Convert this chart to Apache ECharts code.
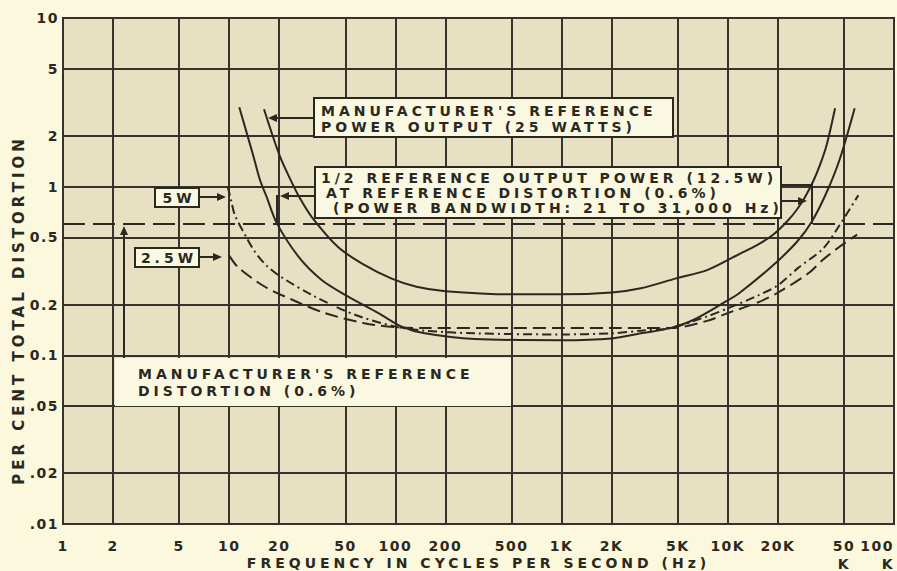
<!DOCTYPE html>
<html>
<head>
<meta charset="utf-8">
<script src="https://cdn.jsdelivr.net/npm/echarts@6/dist/echarts.min.js"></script>
<style>
  html, body { margin: 0; padding: 0; background: #fbf8dd; }
  #chart { width: 897px; height: 571px; }
  #chart text { letter-spacing: 4px; }
</style>
</head>
<body>
<div id="chart"></div>
<script>
// axis ticks (Hz and per cent)
const xTickFreqs = [1, 2, 5, 10, 20, 50, 100, 200, 500, 1000, 2000, 5000, 10000, 20000, 50000, 100000]
const xTickLabels = ['1', '2', '5', '10', '20', '50', '100', '200', '500', '1K', '2K', '5K', '10K', '20K', '50\nK', '100\nK']
const yTickValues = [0.01, 0.02, 0.05, 0.1, 0.2, 0.5, 1, 2, 5, 10]
const yTickLabels = ['.01', '.02', '.05', '0.1', '0.2', '0.5', '1', '2', '5', '10']
const referenceDistortion = 0.6

// 25 W (manufacturer's reference power output)
const freq25 = [16.2, 20.2, 23.8, 26.7, 31.4, 45, 63, 95, 134, 200, 500, 1000, 2000, 3000, 4900, 7500, 11800, 15000, 18800, 23000, 26000, 29000, 32700, 36000, 39400, 44200]
const thd25 = [2.88, 1.51, 1.06, 0.85, 0.66, 0.44, 0.35, 0.285, 0.255, 0.24, 0.23, 0.23, 0.236, 0.25, 0.286, 0.32, 0.40, 0.45, 0.52, 0.63, 0.73, 0.86, 1.08, 1.36, 1.78, 2.92]
// 12.5 W (half reference power)
const freq12 = [11.5, 14.0, 15.3, 16.8, 19.3, 26.1, 36, 52, 79, 109, 150, 300, 1000, 2000, 3000, 4500, 6200, 9850, 11800, 18800, 26000, 32000, 39400, 47300, 58000]
const thd12 = [2.96, 1.51, 1.10, 0.87, 0.61, 0.385, 0.28, 0.223, 0.178, 0.148, 0.135, 0.125, 0.123, 0.126, 0.135, 0.145, 0.162, 0.21, 0.235, 0.343, 0.47, 0.62, 0.93, 1.47, 2.92]
// 5 W
const freq5 = [9.8, 10.3, 10.8, 12.7, 14.3, 16.8, 20.7, 32.8, 57, 100, 150, 300, 1000, 2000, 3000, 4500, 7500, 10000, 15000, 20000, 26500, 37500, 47000, 61000]
const thd5 = [1.0, 0.82, 0.68, 0.50, 0.41, 0.34, 0.29, 0.223, 0.174, 0.148, 0.14, 0.135, 0.133, 0.135, 0.14, 0.145, 0.17, 0.19, 0.225, 0.26, 0.33, 0.43, 0.59, 0.89]
// 2.5 W
const freq2 = [10, 11.3, 16.4, 24.9, 37.7, 65, 100, 150, 500, 1000, 2000, 4500, 7500, 10000, 15000, 20000, 31000, 37500, 47000, 60000]
const thd2 = [0.39, 0.333, 0.255, 0.21, 0.178, 0.155, 0.147, 0.145, 0.145, 0.145, 0.145, 0.145, 0.16, 0.178, 0.205, 0.235, 0.31, 0.37, 0.44, 0.52]

const ink = '#2a2820'
const font = '"DejaVu Sans", sans-serif'
const boxFont = 'bold 14px "DejaVu Sans", sans-serif'

function lg (v) { return Math.log10(v) }
function toPoints (freqs, vals) {
  return freqs.map((f, i) => [lg(f), lg(vals[i])])
}
function findLabel (ticks, labels, value) {
  const i = ticks.findIndex(t => Math.abs(lg(t) - value) < 1e-6)
  return i < 0 ? '' : labels[i]
}

function curve (name, freqs, vals, dash) {
  return {
    name: name,
    type: 'line',
    smooth: 0.3,
    symbol: 'none',
    silent: true,
    lineStyle: { color: ink, width: 2, type: dash },
    data: toPoints(freqs, vals)
  }
}

function text (str, x, y, align) {
  return {
    type: 'text', z: 110,
    style: { text: str, x: x, y: y, font: boxFont, fill: ink, align: align || 'left', verticalAlign: 'middle' }
  }
}
function box (x, y, w, h, stroke) {
  return {
    type: 'rect', z: 100,
    shape: { x: x, y: y, width: w, height: h },
    style: { fill: '#fbf8e2', stroke: stroke ? ink : null, lineWidth: 2 }
  }
}
function line (x1, y1, x2, y2) {
  return { type: 'line', z: 105, shape: { x1, y1, x2, y2 }, style: { stroke: ink, lineWidth: 2 } }
}
function head (x, y, dir) {
  // small filled arrow head, tip at (x, y)
  let pts
  if (dir === 'left') pts = [[x, y], [x + 9, y - 4], [x + 9, y + 4]]
  else if (dir === 'right') pts = [[x, y], [x - 9, y - 4], [x - 9, y + 4]]
  else pts = [[x, y], [x - 4, y + 9], [x + 4, y + 9]]
  return { type: 'polygon', z: 106, shape: { points: pts }, style: { fill: ink } }
}

const chart = echarts.init(document.getElementById('chart'), null, { renderer: 'svg' })

const option = {
  animation: false,
  backgroundColor: '#fbf8dd',
  grid: {
    left: 63, right: 3, top: 18, bottom: 47,
    outerBoundsMode: 'none',
    show: true,
    backgroundColor: '#e8e0c2',
    borderColor: ink,
    borderWidth: 2
  },
  xAxis: {
    type: 'value',
    min: 0,
    max: 5,
    name: 'FREQUENCY IN CYCLES PER SECOND (Hz)',
    nameLocation: 'middle',
    nameGap: 32,
    nameMoveOverlap: false,
    nameTextStyle: { color: ink, fontFamily: font, fontWeight: 'bold', fontSize: 14 },
    axisLine: { show: false },
    axisTick: { show: false, customValues: xTickFreqs.map(lg) },
    splitLine: { show: true, lineStyle: { color: '#35332a', width: 2 } },
    axisLabel: {
      customValues: xTickFreqs.map(lg),
      margin: 13,
      color: ink,
      fontFamily: font,
      fontWeight: 'bold',
      fontSize: 14,
      lineHeight: 18,
      alignMaxLabel: 'right',
      formatter: v => findLabel(xTickFreqs, xTickLabels, v)
    }
  },
  yAxis: {
    type: 'value',
    min: -2,
    max: 1,
    name: 'PER CENT TOTAL DISTORTION',
    nameLocation: 'middle',
    nameGap: 37,
    nameMoveOverlap: false,
    nameTextStyle: { color: ink, fontFamily: font, fontWeight: 'bold', fontSize: 15, padding: [0, 78, 0, 0] },
    axisLine: { show: false },
    axisTick: { show: false, customValues: yTickValues.map(lg) },
    splitLine: { show: true, lineStyle: { color: '#35332a', width: 2 } },
    axisLabel: {
      customValues: yTickValues.map(lg),
      margin: 4,
      color: ink,
      fontFamily: font,
      fontWeight: 'bold',
      fontSize: 14,
      formatter: v => findLabel(yTickValues, yTickLabels, v)
    }
  },
  series: [
    Object.assign(curve('25W', freq25, thd25, 'solid'), {
      markLine: {
        silent: true,
        symbol: ['none', 'none'],
        label: { show: false },
        lineStyle: { color: ink, width: 2, type: [22, 8] },
        data: [{ yAxis: lg(referenceDistortion) }]
      }
    }),
    curve('12.5W', freq12, thd12, 'solid'),
    curve('5W', freq5, thd5, [9, 4, 2, 4]),
    curve('2.5W', freq2, thd2, [13, 6])
  ],
  graphic: [
    // manufacturer's reference power output
    box(314, 98, 359, 39, true),
    text("MANUFACTURER'S REFERENCE", 321, 111),
    text('POWER OUTPUT (25 WATTS)', 321, 127),
    line(314, 118, 274, 118), head(268, 118, 'left'),
    // half reference power
    box(315, 167, 466, 51, true),
    text('1/2 REFERENCE OUTPUT POWER (12.5W)', 321, 178),
    text('AT REFERENCE DISTORTION (0.6%)', 326, 193),
    text('(POWER BANDWIDTH: 21 TO 31,000 Hz)', 333, 208),
    line(315, 196, 286, 196), head(280, 196, 'left'),
    line(277, 195, 277, 224),
    { type: 'polyline', z: 105, shape: { points: [[781, 185], [812, 185], [812, 224]] }, style: { stroke: ink, lineWidth: 2, fill: null } },
    line(781, 201, 801, 201), head(807, 201, 'right'),
    // 5W / 2.5W tags
    box(155, 188, 44, 19, true),
    text('5W', 179, 198, 'center'),
    line(199, 197, 220, 197), head(226, 197, 'right'),
    box(135, 248, 64, 19, true),
    text('2.5W', 169, 258, 'center'),
    line(199, 257, 216, 257), head(222, 257, 'right'),
    // reference distortion note
    box(115, 358, 396, 48, false),
    text("MANUFACTURER'S REFERENCE", 138, 374),
    text('DISTORTION (0.6%)', 138, 391),
    line(124, 358, 124, 234), head(124, 226, 'up')
  ]
}

// tick numbers are set tighter than the lettering
function spaceLetters () {
  document.querySelectorAll('#chart text').forEach(t => {
    const s = t.textContent.trim()
    t.style.letterSpacing = /^[0-9.K]+$/.test(s) ? '1.5px' : '4px'
  })
}
chart.on('finished', spaceLetters)
chart.setOption(option)
spaceLetters()
</script>
</body>
</html>
